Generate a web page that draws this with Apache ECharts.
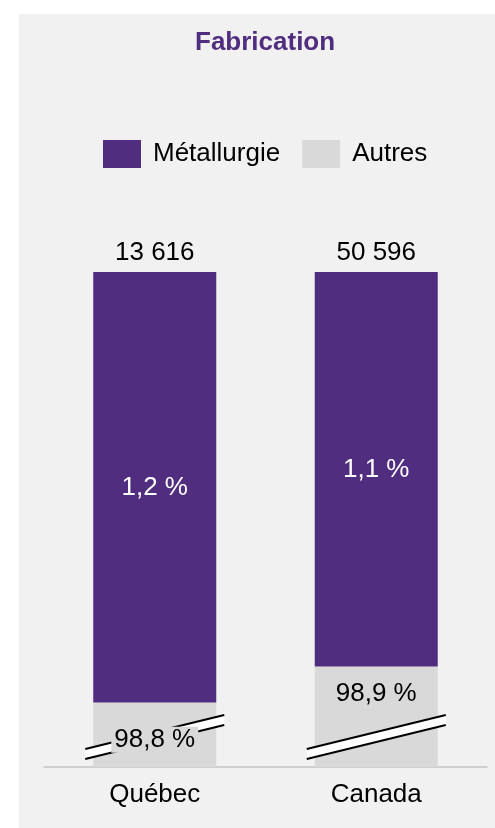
<!DOCTYPE html>
<html>
<head>
<meta charset="utf-8">
<script src="https://cdn.jsdelivr.net/npm/echarts@6/dist/echarts.min.js"></script>
<style>
  html, body { margin: 0; padding: 0; background: #ffffff; }
  #chart { width: 495px; height: 828px; }
</style>
</head>
<body>
<div id="chart"></div>
<script>
// Emploi dans la fabrication : part de la métallurgie
const categories = ['Québec', 'Canada'];
const metallurgie = [1.2, 1.1];      // % Métallurgie
const autres = [98.8, 98.9];         // % Autres
const totals = [13616, 50596];       // emplois en métallurgie

const FONT = "'Liberation Sans', Arial, sans-serif";
const PURPLE = '#502d7e';
const GREY = '#d9d9d9';
const Y_MIN = 98.62;                 // axe tronqué
const BAR_W = 123;
const autresLabelLift = [-5, 23];

const fmtPct = v => v.toFixed(1).replace('.', ',') + ' %';
const fmtInt = v => String(v).replace(/\B(?=(\d{3})+(?!\d))/g, ' ');

const chart = echarts.init(document.getElementById('chart'), null, { renderer: 'canvas' });

// Brisure d'axe, étiquette « Autres » et total au-dessus de chaque colonne
function renderAnnotations(params, api) {
  const i = api.value(0);
  const aut = api.value(1);
  const met = api.value(2);
  const cx = api.coord([i, Y_MIN])[0];
  const bottomY = api.coord([i, Y_MIN])[1];
  const boundaryY = api.coord([i, aut])[1];
  const topY = api.coord([i, aut + met])[1];

  const half = BAR_W / 2 + 8;
  const cy = bottomY - 30;
  const rise = 17;
  const h = 5;
  const x1 = cx - half, x2 = cx + half;
  const y1 = cy + rise, y2 = cy - rise;

  return {
    type: 'group',
    children: [
      {
        type: 'polygon',
        shape: { points: [[x1, y1 - h], [x2, y2 - h], [x2, y2 + h], [x1, y1 + h]] },
        style: { fill: '#ffffff' }
      },
      {
        type: 'line',
        shape: { x1: x1, y1: y1 - h, x2: x2, y2: y2 - h },
        style: { stroke: '#000000', lineWidth: 2 }
      },
      {
        type: 'line',
        shape: { x1: x1, y1: y1 + h, x2: x2, y2: y2 + h },
        style: { stroke: '#000000', lineWidth: 2 }
      },
      {
        type: 'text',
        x: cx,
        y: (boundaryY + bottomY) / 2 - autresLabelLift[i],
        style: {
          text: fmtPct(aut),
          fill: '#000000',
          fontSize: 26,
          fontFamily: FONT,
          align: 'center',
          verticalAlign: 'middle',
          backgroundColor: GREY,
          padding: [0, 3]
        }
      },
      {
        type: 'text',
        x: cx,
        y: topY - 19,
        style: {
          text: fmtInt(totals[i]),
          fill: '#000000',
          fontSize: 26,
          fontFamily: FONT,
          align: 'center',
          verticalAlign: 'middle'
        }
      }
    ]
  };
}

const option = {
  animation: false,
  backgroundColor: '#ffffff',
  textStyle: { fontFamily: FONT },
  graphic: [
    {
      type: 'rect',
      z: -10,
      silent: true,
      shape: { x: 19, y: 14, width: 476, height: 814 },
      style: { fill: '#f1f1f1' }
    }
  ],
  title: {
    text: 'Fabrication',
    left: 195,
    top: 30,
    padding: 0,
    textStyle: { color: PURPLE, fontSize: 26, fontWeight: 'bold', fontFamily: FONT }
  },
  legend: {
    data: ['Métallurgie', 'Autres'],
    left: 103,
    top: 140,
    padding: 0,
    itemWidth: 38,
    itemHeight: 28,
    itemGap: 22,
    icon: 'rect',
    selectedMode: false,
    textStyle: { color: '#000000', fontSize: 26, fontFamily: FONT, padding: [4, 0, 0, 7] }
  },
  grid: {
    left: 44,
    right: 8,
    top: 272,
    bottom: 61,
    outerBoundsMode: 'none',
    containLabel: false
  },
  xAxis: {
    type: 'category',
    data: categories,
    axisTick: { show: false },
    axisLine: { show: true, lineStyle: { color: '#c3c3c3', width: 1.5 } },
    axisLabel: { color: '#000000', fontSize: 26, fontFamily: FONT, margin: 15 },
    splitLine: { show: false }
  },
  yAxis: {
    type: 'value',
    min: Y_MIN,
    max: 100,
    show: false,
    splitLine: { show: false }
  },
  series: [
    {
      name: 'Autres',
      type: 'bar',
      stack: 'part',
      barWidth: BAR_W,
      clip: true,
      data: autres,
      itemStyle: { color: GREY },
      label: { show: false },
      emphasis: { disabled: true }
    },
    {
      name: 'Métallurgie',
      type: 'bar',
      stack: 'part',
      barWidth: BAR_W,
      clip: true,
      data: metallurgie,
      itemStyle: { color: PURPLE },
      label: {
        show: true,
        position: 'inside',
        color: '#ffffff',
        fontSize: 26,
        fontFamily: FONT,
        offset: [0, 1],
        formatter: p => fmtPct(p.value)
      },
      emphasis: { disabled: true }
    },
    {
      name: 'annotations',
      type: 'custom',
      z: 3,
      silent: true,
      encode: { x: 0, y: 1 },
      data: categories.map((c, i) => [i, autres[i], metallurgie[i]]),
      renderItem: renderAnnotations
    }
  ]
};

chart.setOption(option);
</script>
</body>
</html>
